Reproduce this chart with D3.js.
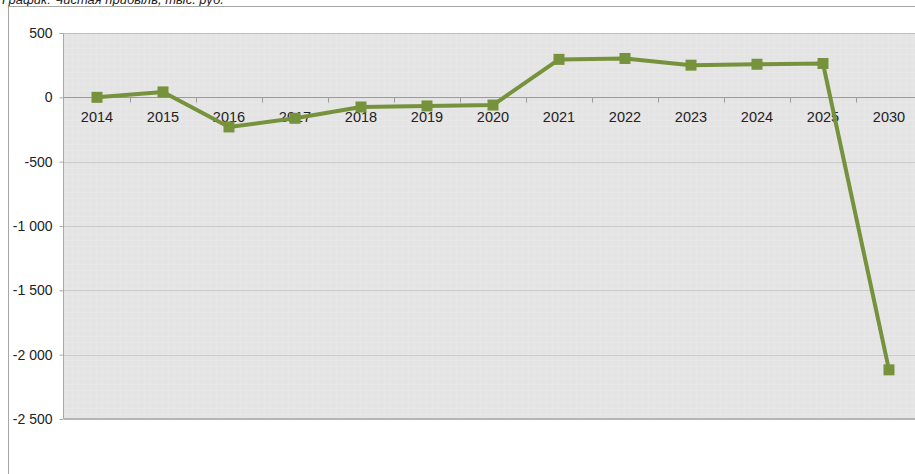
<!DOCTYPE html>
<html><head><meta charset="utf-8">
<script src="https://cdn.jsdelivr.net/npm/d3@7"></script>
<style>html,body{margin:0;padding:0;background:#fff;overflow:hidden}</style>
</head><body>
<svg id="c" width="915" height="474"></svg>
<script>
const years = ["2014","2015","2016","2017","2018","2019","2020","2021","2022","2023","2024","2025","2030"];
const values = [0, 42, -230, -163, -75, -67, -60, 295, 302, 250, 257, 263, -2118];
const yTicks = [500, 0, -500, -1000, -1500, -2000, -2500];
const title = "График: Чистая прибыль, тыс. руб.";

const svg = d3.select("#c");
const L = 64, R = 922, T = 33, B = 419;
const x = d3.scaleBand().domain(years).range([L, R]).padding(0);
const y = d3.scaleLinear().domain([-2500, 500]).range([B, T]);
const FONT = "Arial, Liberation Sans, sans-serif";

// title (cut off at top, as in the reference)
svg.append("text").attr("x", 2).attr("y", 3.5).attr("font-family", FONT)
  .attr("font-size", 13).attr("font-style", "italic").attr("fill", "#222").text(title);

// outer frame
svg.append("path").attr("d", "M8.5,474 V6.5 H915").attr("fill", "none").attr("stroke", "#a6a6a6").attr("stroke-width", 1);

// subtle pattern
const defs = svg.append("defs");
const pat = defs.append("pattern").attr("id", "p").attr("width", 6).attr("height", 6).attr("patternUnits", "userSpaceOnUse");
pat.append("rect").attr("width", 6).attr("height", 6).attr("fill", "#e4e4e4");
pat.append("rect").attr("width", 1).attr("height", 6).attr("fill", "#e7e7e7");
pat.append("rect").attr("width", 6).attr("height", 1).attr("fill", "#e7e7e7");

svg.append("rect").attr("x", L).attr("y", T).attr("width", R - L).attr("height", B - T).attr("fill", "url(#p)");

// gridlines
svg.append("g").selectAll("line").data(yTicks.filter(d => d !== 0 && d !== 500 && d !== -2500)).join("line")
  .attr("x1", L).attr("x2", R).attr("y1", d => Math.round(y(d)) + 0.5).attr("y2", d => Math.round(y(d)) + 0.5)
  .attr("stroke", "#cbcbcb").attr("stroke-width", 1);
svg.append("line").attr("x1", L).attr("x2", R).attr("y1", T + 0.5).attr("y2", T + 0.5).attr("stroke", "#bdbdbd");
svg.append("line").attr("x1", L).attr("x2", R).attr("y1", B).attr("y2", B).attr("stroke", "#b5b5b5").attr("stroke-width", 2);
svg.append("line").attr("x1", L - 0.5).attr("x2", L - 0.5).attr("y1", T).attr("y2", B).attr("stroke", "#a9a9a9");

// y axis ticks & labels
const ya = svg.append("g").attr("transform", `translate(${L - 0.5},0)`)
  .call(d3.axisLeft(y).tickValues(yTicks).tickSize(4).tickPadding(7)
    .tickFormat(d => d3.format(",")(d).replace(/,/g, " ").replace("−", "-")));
ya.select(".domain").remove();
ya.selectAll(".tick line").attr("stroke", "#a9a9a9");
ya.selectAll("text").attr("font-family", FONT).attr("font-size", 14).attr("fill", "#222");

// zero axis with category ticks
const y0 = Math.round(y(0)) + 0.5;
svg.append("line").attr("x1", L).attr("x2", R).attr("y1", y0).attr("y2", y0).attr("stroke", "#9a9a9a");
svg.append("g").selectAll("line").data(years.slice(1)).join("line")
  .attr("x1", d => Math.round(x(d)) + 0.5).attr("x2", d => Math.round(x(d)) + 0.5)
  .attr("y1", y0).attr("y2", y0 + 5).attr("stroke", "#9a9a9a");
svg.append("g").selectAll("text").data(years).join("text")
  .attr("x", d => x(d) + x.bandwidth() / 2).attr("y", y0 + 24).attr("text-anchor", "middle")
  .attr("font-family", FONT).attr("font-size", 14.5).attr("fill", "#222").text(d => d);

// line
const data = years.map((yr, i) => ({yr, v: values[i]}));
const line = d3.line().x(d => x(d.yr) + x.bandwidth() / 2).y(d => y(d.v));
svg.append("path").datum(data).attr("d", line).attr("fill", "none").attr("stroke", "#76923c")
  .attr("stroke-width", 4).attr("stroke-linejoin", "round");
svg.append("g").selectAll("rect").data(data).join("rect")
  .attr("x", d => x(d.yr) + x.bandwidth() / 2 - 5.5).attr("y", d => y(d.v) - 5.5)
  .attr("width", 11).attr("height", 11).attr("fill", "#76923c");
</script>
</body></html>
